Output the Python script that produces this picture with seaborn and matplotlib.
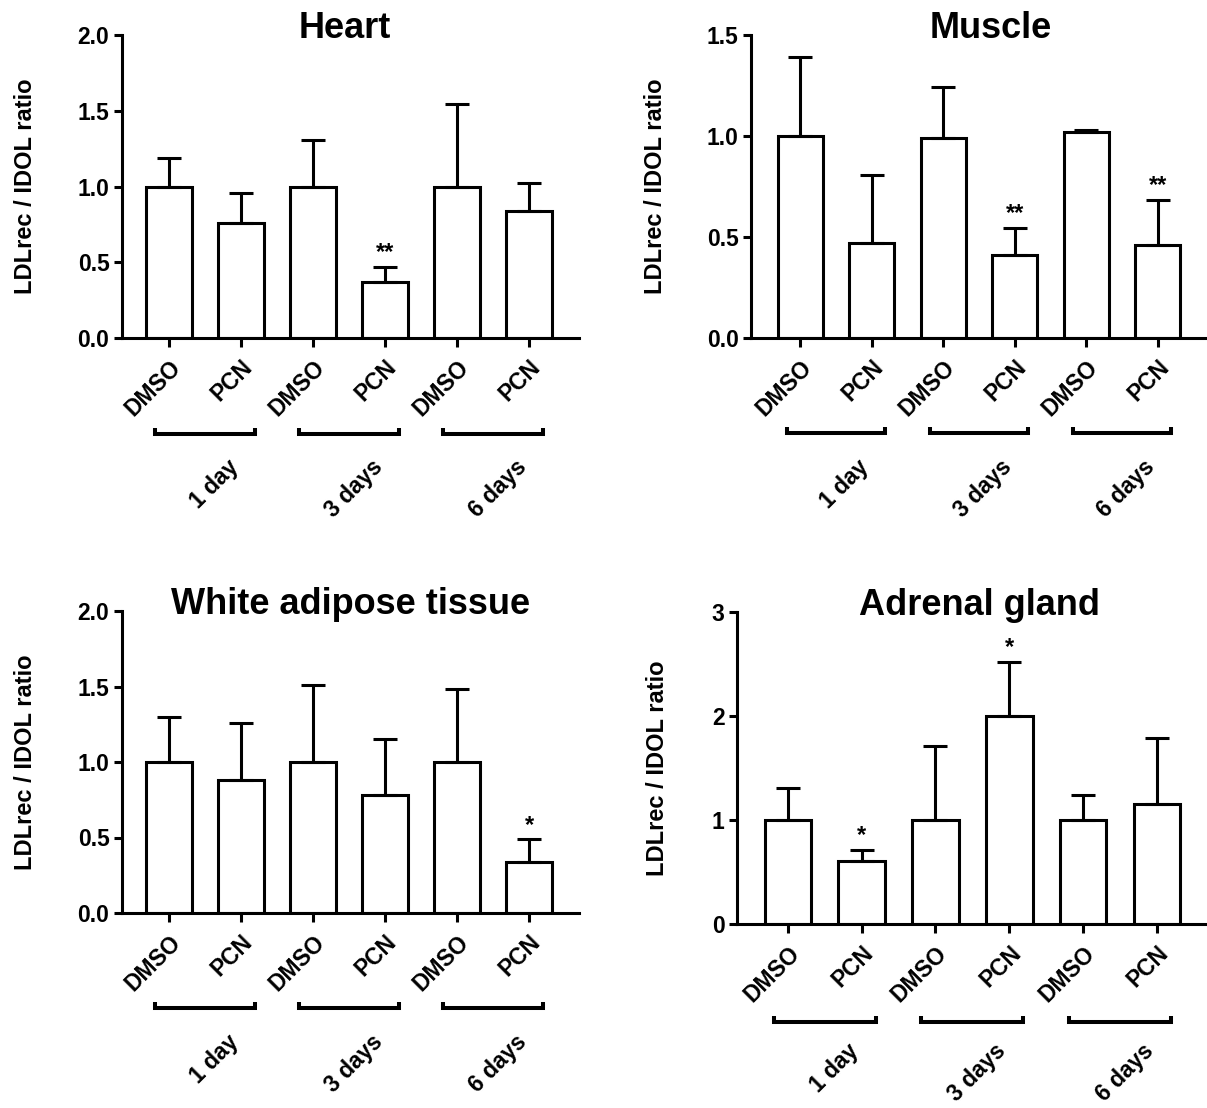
import numpy as np
import pandas as pd
import matplotlib
matplotlib.use("Agg")
import matplotlib.pyplot as plt
from matplotlib.lines import Line2D
from matplotlib.transforms import blended_transform_factory
import seaborn as sns

# ---- data -------------------------------------------------------------
treatments = ["DMSO", "PCN", "DMSO", "PCN", "DMSO", "PCN"]
durations = ["1 day", "3 days", "6 days"]
y_label = "LDLrec / IDOL ratio"

heart_mean = [1.00, 0.76, 1.00, 0.37, 1.00, 0.84]
heart_sem = [0.19, 0.195, 0.31, 0.10, 0.545, 0.185]
heart_sig = ["", "", "", "**", "", ""]

muscle_mean = [1.00, 0.47, 0.99, 0.41, 1.02, 0.46]
muscle_sem = [0.39, 0.335, 0.255, 0.135, 0.008, 0.225]
muscle_sig = ["", "", "", "**", "", "**"]

wat_mean = [1.00, 0.88, 1.00, 0.78, 1.00, 0.34]
wat_sem = [0.30, 0.375, 0.51, 0.375, 0.485, 0.147]
wat_sig = ["", "", "", "", "", "*"]

adrenal_mean = [1.00, 0.61, 1.00, 2.00, 1.00, 1.15]
adrenal_sem = [0.31, 0.105, 0.71, 0.52, 0.24, 0.64]
adrenal_sig = ["", "*", "", "*", "", ""]

heart_ticks = [0.0, 0.5, 1.0, 1.5, 2.0]
muscle_ticks = [0.0, 0.5, 1.0, 1.5]
wat_ticks = [0.0, 0.5, 1.0, 1.5, 2.0]
adrenal_ticks = [0, 1, 2, 3]

# ---- style ------------------------------------------------------------
sns.set_style("ticks")
plt.rcParams["font.family"] = ["Liberation Sans", "DejaVu Sans"]
plt.rcParams["font.weight"] = "bold"
plt.rcParams["axes.labelweight"] = "bold"
plt.rcParams["axes.titleweight"] = "bold"
for key in ("text.color", "axes.labelcolor", "xtick.color", "ytick.color",
            "axes.edgecolor"):
    plt.rcParams[key] = "black"

W, H = 1207, 1108
fig = plt.figure(figsize=(W / 100, H / 100), dpi=100)
LW = 2.2
TICK_FS = 16.5


def draw_panel(rect, title, mean, sem, sig, ticks, fmt, xlim,
               ylab_px, bracket_px, group_px, title_dx=0.0):
    ax = fig.add_axes(rect)
    keys = [f"{t} {d}" for d in durations for t in ("DMSO", "PCN")]
    df = pd.DataFrame({"group": keys, "ratio": mean})
    sns.barplot(data=df, x="group", y="ratio", order=keys, width=0.63,
                color="white", saturation=1, edgecolor="black",
                linewidth=LW, errorbar=None, ax=ax, zorder=2)
    x = np.arange(len(keys))
    ax.errorbar(x, mean, yerr=[np.zeros(len(mean)), sem], fmt="none",
                ecolor="black", elinewidth=LW, capsize=8.4, capthick=LW,
                zorder=3)
    for xi, m, s, star in zip(x, mean, sem, sig):
        if star:
            ax.annotate(star, xy=(xi, m + s), xytext=(0, 5.5),
                        textcoords="offset points", ha="center",
                        va="baseline", fontsize=17, fontweight="bold")

    ax.set_ylim(0, ticks[-1])
    ax.set_xlim(*xlim)
    ax.set_yticks(ticks)
    ax.set_yticklabels([fmt.format(t) for t in ticks], fontsize=TICK_FS,
                       fontweight="bold")
    ax.set_xticks(x)
    ax.set_xticklabels(treatments, rotation=45, ha="right", va="top",
                       rotation_mode="anchor", fontsize=TICK_FS,
                       fontweight="bold")
    ax.tick_params(axis="y", length=6, width=LW, pad=3)
    ax.tick_params(axis="x", length=6.5, width=LW, pad=6)
    for side in ("top", "right"):
        ax.spines[side].set_visible(False)
    for side in ("left", "bottom"):
        ax.spines[side].set_linewidth(LW)
    ax.set_xlabel("")
    # explicit y keeps the title sitting just on the top of the axis
    ax.set_title(title, fontsize=26, fontweight="bold", x=0.5 + title_dx,
                 y=1.0, pad=-2.2)

    ax_w_px = rect[2] * W
    ax_h_px = rect[3] * H
    ax.set_ylabel(y_label, fontsize=17, fontweight="bold")
    ax.yaxis.set_label_coords(-ylab_px / ax_w_px, 0.5)

    trans = blended_transform_factory(ax.transData, ax.transAxes)
    y_line = -bracket_px / ax_h_px
    y_end = -(bracket_px - 6) / ax_h_px
    y_text = -group_px / ax_h_px
    for gi, label in enumerate(durations):
        c = 2 * gi + 0.5
        ax.add_line(Line2D([c - 0.69, c - 0.69, c + 0.69, c + 0.69],
                           [y_end, y_line, y_line, y_end], color="black",
                           lw=2.9, transform=trans, clip_on=False,
                           solid_joinstyle="miter", solid_capstyle="butt"))
        ax.text(c + 0.3, y_text, label, transform=trans, rotation=45,
                ha="right", va="top", rotation_mode="anchor",
                fontsize=TICK_FS, fontweight="bold")
    return ax


draw_panel([122 / W, 1 - 338 / H, 457 / W, 303 / H], "Heart",
           heart_mean, heart_sem, heart_sig, heart_ticks, "{:.1f}",
           (-0.653, 5.694), 84.5, 96, 117, title_dx=-0.012)
draw_panel([751 / W, 1 - 338 / H, 456 / W, 303 / H], "Muscle",
           muscle_mean, muscle_sem, muscle_sig, muscle_ticks, "{:.1f}",
           (-0.69, 5.69), 84.5, 95, 117, title_dx=0.025)
draw_panel([122 / W, 1 - 913 / H, 457 / W, 302 / H], "White adipose tissue",
           wat_mean, wat_sem, wat_sig, wat_ticks, "{:.1f}",
           (-0.653, 5.694), 84.5, 95, 117)
draw_panel([737 / W, 1 - 924 / H, 470 / W, 312 / H], "Adrenal gland",
           adrenal_mean, adrenal_sem, adrenal_sig, adrenal_ticks, "{:.0f}",
           (-0.69, 5.68), 68.5, 98, 115, title_dx=0.015)

fig.savefig("out.png", dpi=100, facecolor="white")
